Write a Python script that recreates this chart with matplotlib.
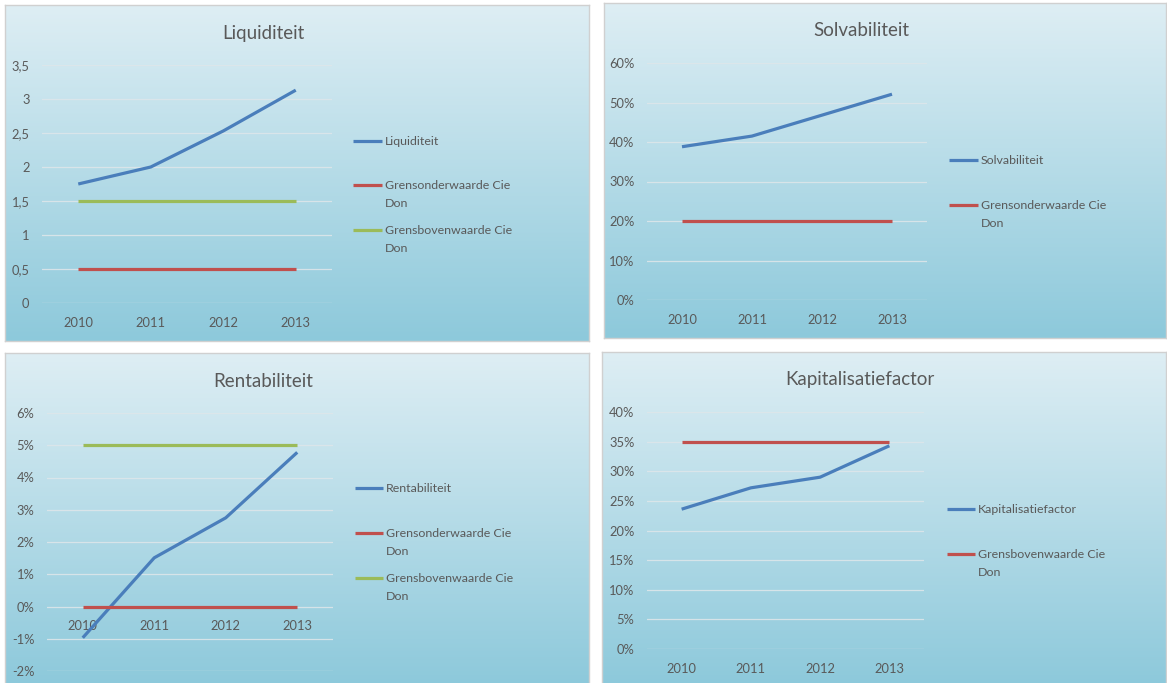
import numpy as np
import matplotlib
matplotlib.use("Agg")
import matplotlib.pyplot as plt
from matplotlib.lines import Line2D
from matplotlib.ticker import FuncFormatter, MultipleLocator

plt.rcParams['font.family'] = ['Lato', 'DejaVu Sans']

# Gegevens
jaren = ['2010', '2011', '2012', '2013']

liquiditeit = [1.75, 2.0, 2.53, 3.13]
liq_onder = [0.5, 0.5, 0.5, 0.5]
liq_boven = [1.5, 1.5, 1.5, 1.5]

solvabiliteit = [0.388, 0.415, 0.468, 0.521]
solv_onder = [0.20, 0.20, 0.20, 0.20]

rentabiliteit = [-0.0097, 0.0151, 0.0275, 0.0478]
rent_onder = [0.0, 0.0, 0.0, 0.0]
rent_boven = [0.05, 0.05, 0.05, 0.05]

kapitalisatie = [0.236, 0.272, 0.29, 0.343]
kap_boven = [0.35, 0.35, 0.35, 0.35]

BLAUW = '#4a7ebb'
ROOD = '#c0504d'
GROEN = '#9bbb59'
TEKST = '#595959'

W, H = 1167, 683
fig = plt.figure(figsize=(W / 100, H / 100), dpi=100)
fig.patch.set_facecolor('white')


def box(x0, y0, x1, y1):
    # pixelcoordinaten (boven-links) naar figuurfracties
    return [x0 / W, 1 - y1 / H, (x1 - x0) / W, (y1 - y0) / H]


def fx(x):
    return x / W


def fy(y):
    return 1 - y / H


def komma(v, pos):
    s = f'{v:g}'
    return s.replace('.', ',')


def procent(v, pos):
    return f'{v * 100:.0f}%'


def paneel(kader, plotvak, titel, titelpos, ylim, stap, fmt, reeksen, legpos, nul_as=False):
    # achtergrond met kleurverloop
    bg = fig.add_axes(box(*kader))
    grad = np.linspace(0, 1, 256).reshape(-1, 1)
    top = np.array([222, 238, 244]) / 255
    bodem = np.array([141, 201, 219]) / 255
    img = top + (bodem - top) * grad[..., None]
    img = img.reshape(256, 1, 3)
    bg.imshow(img, aspect='auto', extent=[0, 1, 0, 1])
    bg.set_xticks([])
    bg.set_yticks([])
    for s in bg.spines.values():
        s.set_color('#d0d0d0')
        s.set_linewidth(1)
    bg.set_zorder(0)

    ax = fig.add_axes(box(*plotvak))
    ax.set_zorder(1)
    ax.patch.set_alpha(0)
    x = np.arange(len(jaren))
    for waarden, kleur, naam in reeksen:
        ax.plot(x, waarden, color=kleur, lw=2.3, solid_capstyle='butt', zorder=3)
    ax.set_xlim(-0.5, len(jaren) - 0.5)
    ax.set_ylim(*ylim)
    ax.yaxis.set_major_locator(MultipleLocator(stap))
    ax.yaxis.set_major_formatter(FuncFormatter(fmt))
    ax.grid(axis='y', color='#dde6ea', lw=0.9, alpha=0.9, zorder=1)
    ax.set_xticks(x)
    ax.set_xticklabels(jaren)
    for s in ax.spines.values():
        s.set_visible(False)
    if nul_as:
        ax.spines['bottom'].set_position(('data', 0))
    ax.tick_params(axis='both', length=0, labelsize=9.3, colors=TEKST)
    ax.tick_params(axis='y', pad=9)
    ax.tick_params(axis='x', pad=10)

    fig.text(fx(titelpos[0]), fy(titelpos[1]), titel, ha='center', va='center',
             fontsize=13.5, color=TEKST)

    lx0, lx1, tx, rijen = legpos
    for (waarden, kleur, naam), ry in zip(reeksen, rijen):
        fig.add_artist(Line2D([fx(lx0), fx(lx1)], [fy(ry), fy(ry)], color=kleur, lw=2.3,
                              transform=fig.transFigure, solid_capstyle='butt'))
        fig.text(fx(tx), fy(ry - 5), naam, ha='left', va='top', fontsize=8.9,
                 color=TEKST, linespacing=1.75)


paneel((5, 5, 589, 341), (42, 65, 332, 303), 'Liquiditeit', (263, 33),
       (0, 3.5), 0.5, komma,
       [(liquiditeit, BLAUW, 'Liquiditeit'),
        (liq_onder, ROOD, 'Grensonderwaarde Cie\nDon'),
        (liq_boven, GROEN, 'Grensbovenwaarde Cie\nDon')],
       (353, 382, 385, (141, 185, 230)))

paneel((604, 3, 1166, 338), (647, 63, 927, 300), 'Solvabiliteit', (861, 31),
       (0, 0.6), 0.1, procent,
       [(solvabiliteit, BLAUW, 'Solvabiliteit'),
        (solv_onder, ROOD, 'Grensonderwaarde Cie\nDon')],
       (949, 978, 981, (160, 205)))

paneel((5, 353, 589, 684), (47, 413, 333, 671), 'Rentabiliteit', (263, 381),
       (-0.02, 0.06), 0.01, procent,
       [(rentabiliteit, BLAUW, 'Rentabiliteit'),
        (rent_onder, ROOD, 'Grensonderwaarde Cie\nDon'),
        (rent_boven, GROEN, 'Grensbovenwaarde Cie\nDon')],
       (355, 383, 386, (488, 533, 578)), nul_as=True)

paneel((602, 352, 1166, 684), (647, 412, 924, 649), 'Kapitalisatiefactor', (860, 379),
       (0, 0.4), 0.05, procent,
       [(kapitalisatie, BLAUW, 'Kapitalisatiefactor'),
        (kap_boven, ROOD, 'Grensbovenwaarde Cie\nDon')],
       (947, 975, 978, (509, 554)))

fig.savefig('out.png', dpi=100)
